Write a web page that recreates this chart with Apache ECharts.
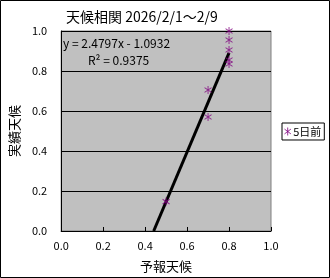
<!DOCTYPE html>
<html><head><meta charset="utf-8">
<script src="https://cdn.jsdelivr.net/npm/echarts@6/dist/echarts.min.js"></script>
<style>html,body{margin:0;padding:0;background:#fff}#c{width:330px;height:278px}</style>
</head><body><div id="c"></div>
<script>
const forecastX = [0.8, 0.8, 0.8, 0.8, 0.8, 0.7, 0.7, 0.5];
const actualY   = [1.0, 0.955, 0.905, 0.855, 0.835, 0.705, 0.57, 0.147];
const trendSlope = 2.4797;
const trendIntercept = -1.0932;
const rSquared = 0.9375;
const axisTicks = [0, 0.2, 0.4, 0.6, 0.8, 1.0];
const seriesName = '5日前';
const titleText = '天候相関 2026/2/1～2/9';

const pts = forecastX.map((x, i) => [x, actualY[i]]);
const xStart = -trendIntercept / trendSlope;
const xEnd = Math.max(...forecastX);
const trend = [[xStart, 0], [xEnd, trendSlope * xEnd + trendIntercept]];
const star = 'path://M5,0L5,10M1,2L9,8M1,8L9,2';
const FF = '"Noto Sans CJK JP", sans-serif';

const chart = echarts.init(document.getElementById('c'));
chart.setOption({
  animation: false,
  backgroundColor: '#fff',
  textStyle: {fontFamily: FF},
  title: {text: titleText, left: 61, top: 5, textStyle: {fontSize: 14, fontWeight: 'normal', color: '#000', fontFamily: FF}},
  grid: {left: 57, top: 31, right: 59, bottom: 47, show: true, backgroundColor: '#c0c0c0', borderColor: '#808080', borderWidth: 1},
  legend: {
    data: [{name: seriesName, icon: star, itemStyle: {color: 'transparent', borderColor: '#800080', borderWidth: 1}}],
    left: 282, top: 123, orient: 'vertical',
    itemWidth: 7, itemHeight: 8, itemGap: 2,
    padding: [3, 3, 3, 2],
    borderColor: '#000', borderWidth: 1, backgroundColor: '#fff', borderRadius: 0,
    textStyle: {fontSize: 11, color: '#000', fontFamily: FF, padding: [0, 0, 0, -3]}
  },
  xAxis: {
    type: 'value', min: 0, max: 1, interval: 0.2,
    name: '予報天候', nameLocation: 'middle', nameGap: 29,
    nameTextStyle: {fontSize: 13, color: '#000', fontFamily: FF},
    axisLine: {show: true, onZero: false, lineStyle: {color: '#000', width: 1}},
    axisTick: {show: true, inside: true, length: 4, lineStyle: {color: '#000'}},
    axisLabel: {fontSize: 11, color: '#000', margin: 9, formatter: v => v.toFixed(1), fontFamily: FF},
    splitLine: {show: false}
  },
  yAxis: {
    type: 'value', min: 0, max: 1, interval: 0.2,
    name: '実績天候', nameLocation: 'middle', nameGap: 30, nameRotate: 90,
    nameTextStyle: {fontSize: 13, color: '#000', fontFamily: FF},
    axisLine: {show: true, onZero: false, lineStyle: {color: '#000', width: 1}},
    axisTick: {show: true, inside: true, length: 4, lineStyle: {color: '#000'}},
    axisLabel: {fontSize: 11, color: '#000', margin: 14, formatter: v => v.toFixed(1), fontFamily: FF},
    splitLine: {show: true, lineStyle: {color: '#000', width: 1}}
  },
  graphic: [
    {type: 'rect', shape: {x: 0.5, y: 0.5, width: 329, height: 277}, style: {fill: 'none', stroke: '#000', lineWidth: 1}, z: 100},
    {type: 'text', left: 63, top: 37, style: {text: 'y = ' + trendSlope + 'x - ' + Math.abs(trendIntercept), fontSize: 12, fill: '#000', fontFamily: FF}, z: 100},
    {type: 'text', left: 88, top: 54, style: {text: 'R² = ' + rSquared, fontSize: 12, fill: '#000', fontFamily: FF}, z: 100}
  ],
  series: [
    {name: seriesName, type: 'scatter', data: pts, symbol: star, symbolSize: [7, 8],
     itemStyle: {color: 'transparent', borderColor: '#800080', borderWidth: 1}, z: 5},
    {name: 'trend', type: 'line', data: trend, symbol: 'none', lineStyle: {color: '#000', width: 3}, z: 4, silent: true}
  ]
});
</script></body></html>
